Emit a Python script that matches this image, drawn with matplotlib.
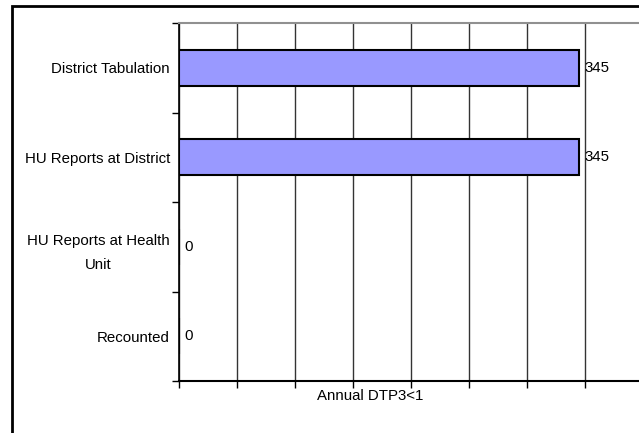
import matplotlib
matplotlib.use("Agg")
import matplotlib.pyplot as plt
from matplotlib.patches import Rectangle
import numpy as np

# data
categories = ["District Tabulation", "HU Reports at District",
              "HU Reports at Health\nUnit", "Recounted"]
values = [345, 345, 0, 0]
x_ticks = [0, 50, 100, 150, 200, 250, 300, 350, 400, 450]
x_label = "Annual DTP3<1"

plt.rcParams["font.family"] = ["Liberation Sans", "DejaVu Sans"]
fs = 10.8

fig = plt.figure(figsize=(6.39, 4.33), dpi=100)
W, H = 639.0, 433.0

# outer frame (runs off the right and bottom edges)
fig.patches.append(Rectangle((12 / W, -0.05), 1.1, (433 - 6) / H + 0.05,
                             transform=fig.transFigure, fill=False,
                             edgecolor="black", linewidth=2))

ax = fig.add_axes([179 / W, 52 / H, (701 - 179) / W, (381 - 23) / H])

y = np.arange(len(categories))
ax.barh(y, values, height=0.4, color="#9999ff", edgecolor="black",
        linewidth=1.5, zorder=3)
for yi, v in zip(y, values):
    ax.annotate(str(v), (v, yi), xytext=(4, 0), textcoords="offset points",
                va="center", ha="left", fontsize=fs, zorder=4)

ax.set_xlim(0, 450)
ax.set_ylim(len(categories) - 0.5, -0.5)
ax.set_xticks(x_ticks)
ax.set_xticklabels([])
ax.tick_params(axis="x", direction="out", length=5, width=1, color="black")
ax.grid(axis="x", color="#333333", linewidth=1, zorder=0)

ax.set_yticks(y)
ax.set_yticklabels(categories, fontsize=fs, multialignment="center",
                   linespacing=1.9)
ax.set_yticks(np.arange(len(categories) + 1) - 0.5, minor=True)
ax.tick_params(axis="y", which="major", length=0, pad=6.5)
ax.tick_params(axis="y", which="minor", length=5, width=1, color="black")

ax.spines["top"].set_color("#909090")
ax.spines["top"].set_linewidth(1.5)
ax.spines["left"].set_linewidth(1.2)
ax.spines["bottom"].set_linewidth(1.5)
ax.spines["right"].set_visible(False)

fig.text(370 / W, 1 - 396 / H, x_label, ha="center", va="center", fontsize=fs)

fig.savefig("out.png", dpi=100)
